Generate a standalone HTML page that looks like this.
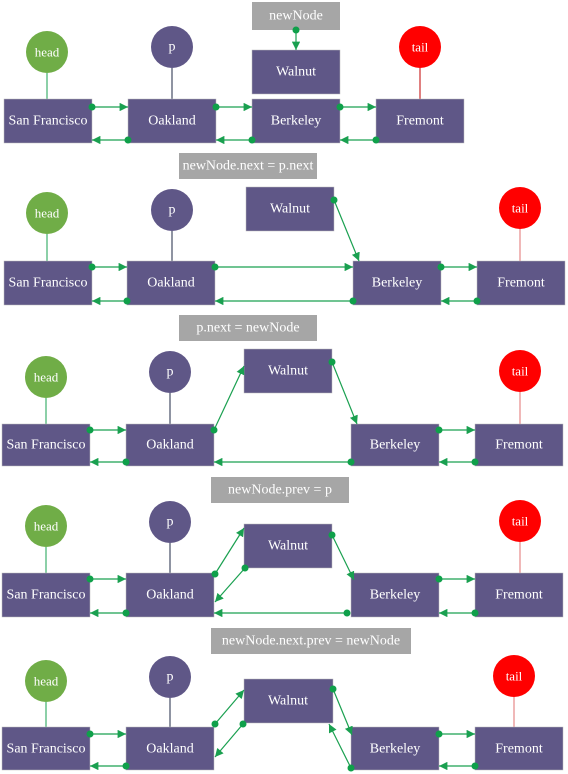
<!DOCTYPE html>
<html><head><meta charset="utf-8"><style>
body{margin:0;background:#fff}
svg{display:block}
text{font-family:"Liberation Serif","Times New Roman",serif;font-size:14px;fill:#fff;text-anchor:middle;dominant-baseline:central}
.n{fill:#5f5787;stroke:#bbb;stroke-width:0.5}
.l{fill:#a6a6a6}
.a{stroke:#1aa050;stroke-width:1.2;fill:none;marker-end:url(#ah)}
.d{fill:#0fa04a}
</style></head><body>
<svg width="568" height="774" viewBox="0 0 568 774" font-family="Liberation Serif, serif">
<defs><marker id="ah" viewBox="0 0 10 10" refX="10" refY="5" markerWidth="7" markerHeight="7" orient="auto"><path d="M0,0L10,5L0,10z" fill="#1aa050"/></marker></defs>

<!-- Panel 1 -->
<rect class="l" x="252" y="2" width="88" height="28"/><text x="296" y="16">newNode</text>
<rect class="n" x="252" y="50" width="88" height="44"/><text x="296" y="72">Walnut</text>
<line class="a" x1="296" y1="30" x2="296" y2="50"/><circle class="d" cx="296" cy="30" r="3.5"/>
<line x1="47" y1="73" x2="47" y2="99" stroke="#1aa050"/><circle cx="47" cy="52" r="21" fill="#70ad47"/><text x="47" y="52" style="font-size:13px">head</text>
<line x1="172" y1="68" x2="172" y2="99" stroke="#1f2a44"/><circle cx="172" cy="47" r="21" fill="#5f5787"/><text x="172" y="47">p</text>
<line x1="420" y1="68" x2="420" y2="99" stroke="#c00000"/><circle cx="420" cy="47" r="21" fill="#ff0000"/><text x="420" y="47" style="font-size:13px">tail</text>
<rect class="n" x="4" y="99" width="88" height="44"/><text x="48" y="121">San Francisco</text>
<rect class="n" x="128" y="99" width="88" height="44"/><text x="172" y="121">Oakland</text>
<rect class="n" x="252" y="99" width="88" height="44"/><text x="296" y="121">Berkeley</text>
<rect class="n" x="376" y="99" width="88" height="44"/><text x="420" y="121">Fremont</text>
<line class="a" x1="92" y1="107" x2="128" y2="107"/><circle class="d" cx="92" cy="107" r="3.5"/>
<line class="a" x1="216" y1="107" x2="252" y2="107"/><circle class="d" cx="216" cy="107" r="3.5"/>
<line class="a" x1="340" y1="107" x2="376" y2="107"/><circle class="d" cx="340" cy="107" r="3.5"/>
<line class="a" x1="128" y1="140" x2="92" y2="140"/><circle class="d" cx="128" cy="140" r="3.5"/>
<line class="a" x1="252" y1="140" x2="216" y2="140"/><circle class="d" cx="252" cy="140" r="3.5"/>
<line class="a" x1="376" y1="140" x2="340" y2="140"/><circle class="d" cx="376" cy="140" r="3.5"/>

<!-- Panel 2 -->
<rect class="l" x="179" y="153" width="138" height="26"/><text x="248" y="166">newNode.next = p.next</text>
<rect class="n" x="246" y="187" width="88" height="44"/><text x="290" y="209">Walnut</text>
<line x1="47" y1="234" x2="47" y2="261" stroke="#1aa050"/><circle cx="47" cy="213" r="21" fill="#70ad47"/><text x="47" y="213" style="font-size:13px">head</text>
<line x1="172" y1="231" x2="172" y2="261" stroke="#1f2a44"/><circle cx="172" cy="210" r="21" fill="#5f5787"/><text x="172" y="210">p</text>
<line x1="520" y1="229" x2="520" y2="261" stroke="#e07070"/><circle cx="520" cy="208" r="21" fill="#ff0000"/><text x="520" y="208" style="font-size:13px">tail</text>
<rect class="n" x="4" y="261" width="88" height="44"/><text x="48" y="283">San Francisco</text>
<rect class="n" x="127" y="261" width="88" height="44"/><text x="171" y="283">Oakland</text>
<rect class="n" x="353" y="261" width="88" height="44"/><text x="397" y="283">Berkeley</text>
<rect class="n" x="477" y="261" width="88" height="44"/><text x="521" y="283">Fremont</text>
<line class="a" x1="92" y1="267" x2="127" y2="267"/><circle class="d" cx="92" cy="267" r="3.5"/>
<line class="a" x1="215" y1="267" x2="353" y2="267"/><circle class="d" cx="215" cy="267" r="3.5"/>
<line class="a" x1="441" y1="267" x2="477" y2="267"/><circle class="d" cx="441" cy="267" r="3.5"/>
<line class="a" x1="127" y1="301" x2="92" y2="301"/><circle class="d" cx="127" cy="301" r="3.5"/>
<line class="a" x1="353" y1="301" x2="215" y2="301"/><circle class="d" cx="353" cy="301" r="3.5"/>
<line class="a" x1="477" y1="301" x2="441" y2="301"/><circle class="d" cx="477" cy="301" r="3.5"/>
<line class="a" x1="334" y1="200" x2="359" y2="261"/><circle class="d" cx="334" cy="200" r="3.5"/>

<!-- Panel 3 -->
<rect class="l" x="179" y="315" width="138" height="26"/><text x="248" y="328">p.next = newNode</text>
<rect class="n" x="244" y="349" width="88" height="44"/><text x="288" y="371">Walnut</text>
<line x1="46" y1="398" x2="46" y2="424" stroke="#1aa050"/><circle cx="46" cy="377" r="21" fill="#70ad47"/><text x="46" y="377" style="font-size:13px">head</text>
<line x1="170" y1="393" x2="170" y2="424" stroke="#1f2a44"/><circle cx="170" cy="372" r="21" fill="#5f5787"/><text x="170" y="372">p</text>
<line x1="520" y1="392" x2="520" y2="424" stroke="#e07070"/><circle cx="520" cy="371" r="21" fill="#ff0000"/><text x="520" y="371" style="font-size:13px">tail</text>
<rect class="n" x="2" y="424" width="88" height="42"/><text x="46" y="445">San Francisco</text>
<rect class="n" x="126" y="424" width="88" height="42"/><text x="170" y="445">Oakland</text>
<rect class="n" x="351" y="424" width="88" height="42"/><text x="395" y="445">Berkeley</text>
<rect class="n" x="475" y="424" width="88" height="42"/><text x="519" y="445">Fremont</text>
<line class="a" x1="90" y1="430" x2="126" y2="430"/><circle class="d" cx="90" cy="430" r="3.5"/>
<line class="a" x1="439" y1="430" x2="475" y2="430"/><circle class="d" cx="439" cy="430" r="3.5"/>
<line class="a" x1="126" y1="462" x2="90" y2="462"/><circle class="d" cx="126" cy="462" r="3.5"/>
<line class="a" x1="351" y1="462" x2="214" y2="462"/><circle class="d" cx="351" cy="462" r="3.5"/>
<line class="a" x1="475" y1="462" x2="439" y2="462"/><circle class="d" cx="475" cy="462" r="3.5"/>
<line class="a" x1="214" y1="430" x2="244" y2="366"/><circle class="d" cx="214" cy="430" r="3.5"/>
<line class="a" x1="332" y1="362" x2="357" y2="424"/><circle class="d" cx="332" cy="362" r="3.5"/>

<!-- Panel 4 -->
<rect class="l" x="211" y="477" width="138" height="26"/><text x="280" y="490">newNode.prev = p</text>
<rect class="n" x="244" y="524" width="88" height="44"/><text x="288" y="546">Walnut</text>
<line x1="46" y1="547" x2="46" y2="573" stroke="#1aa050"/><circle cx="46" cy="526" r="21" fill="#70ad47"/><text x="46" y="526" style="font-size:13px">head</text>
<line x1="170" y1="543" x2="170" y2="573" stroke="#1f2a44"/><circle cx="170" cy="522" r="21" fill="#5f5787"/><text x="170" y="522">p</text>
<line x1="520" y1="542" x2="520" y2="573" stroke="#e07070"/><circle cx="520" cy="521" r="21" fill="#ff0000"/><text x="520" y="521" style="font-size:13px">tail</text>
<rect class="n" x="2" y="573" width="88" height="44"/><text x="46" y="595">San Francisco</text>
<rect class="n" x="126" y="573" width="88" height="44"/><text x="170" y="595">Oakland</text>
<rect class="n" x="351" y="573" width="88" height="44"/><text x="395" y="595">Berkeley</text>
<rect class="n" x="475" y="573" width="88" height="44"/><text x="519" y="595">Fremont</text>
<line class="a" x1="90" y1="579" x2="126" y2="579"/><circle class="d" cx="90" cy="579" r="3.5"/>
<line class="a" x1="439" y1="579" x2="475" y2="579"/><circle class="d" cx="439" cy="579" r="3.5"/>
<line class="a" x1="126" y1="613" x2="90" y2="613"/><circle class="d" cx="126" cy="613" r="3.5"/>
<line class="a" x1="347" y1="613" x2="214" y2="613"/><circle class="d" cx="347" cy="613" r="3.5"/>
<line class="a" x1="475" y1="613" x2="439" y2="613"/><circle class="d" cx="475" cy="613" r="3.5"/>
<line class="a" x1="215" y1="574" x2="244" y2="528"/><circle class="d" cx="215" cy="574" r="3.5"/>
<line class="a" x1="245" y1="568" x2="215" y2="602"/><circle class="d" cx="245" cy="568" r="3.5"/>
<line class="a" x1="332" y1="535" x2="354" y2="580"/><circle class="d" cx="332" cy="535" r="3.5"/>

<!-- Panel 5 -->
<rect class="l" x="211" y="628" width="200" height="26"/><text x="311" y="641">newNode.next.prev = newNode</text>
<rect class="n" x="244" y="679" width="89" height="44"/><text x="288" y="701">Walnut</text>
<line x1="46" y1="702" x2="46" y2="727" stroke="#1aa050"/><circle cx="46" cy="681" r="21" fill="#70ad47"/><text x="46" y="681" style="font-size:13px">head</text>
<line x1="170" y1="698" x2="170" y2="727" stroke="#1f2a44"/><circle cx="170" cy="677" r="21" fill="#5f5787"/><text x="170" y="677">p</text>
<line x1="514" y1="697" x2="514" y2="727" stroke="#e07070"/><circle cx="514" cy="676" r="21" fill="#ff0000"/><text x="514" y="676" style="font-size:13px">tail</text>
<rect class="n" x="2" y="727" width="88" height="43"/><text x="46" y="749">San Francisco</text>
<rect class="n" x="126" y="727" width="88" height="43"/><text x="170" y="749">Oakland</text>
<rect class="n" x="351" y="727" width="88" height="43"/><text x="395" y="749">Berkeley</text>
<rect class="n" x="475" y="727" width="88" height="43"/><text x="519" y="749">Fremont</text>
<line class="a" x1="90" y1="734" x2="126" y2="734"/><circle class="d" cx="90" cy="734" r="3.5"/>
<line class="a" x1="439" y1="734" x2="475" y2="734"/><circle class="d" cx="439" cy="734" r="3.5"/>
<line class="a" x1="126" y1="766" x2="90" y2="766"/><circle class="d" cx="126" cy="766" r="3.5"/>
<line class="a" x1="475" y1="766" x2="439" y2="766"/><circle class="d" cx="475" cy="766" r="3.5"/>
<line class="a" x1="215" y1="724" x2="244" y2="690"/><circle class="d" cx="215" cy="724" r="3.5"/>
<line class="a" x1="243" y1="724" x2="215" y2="757"/><circle class="d" cx="243" cy="724" r="3.5"/>
<line class="a" x1="333" y1="689" x2="352" y2="735"/><circle class="d" cx="333" cy="689" r="3.5"/>
<line class="a" x1="351" y1="768" x2="329" y2="724"/><circle class="d" cx="351" cy="768" r="3.5"/>
</svg>
</body></html>
